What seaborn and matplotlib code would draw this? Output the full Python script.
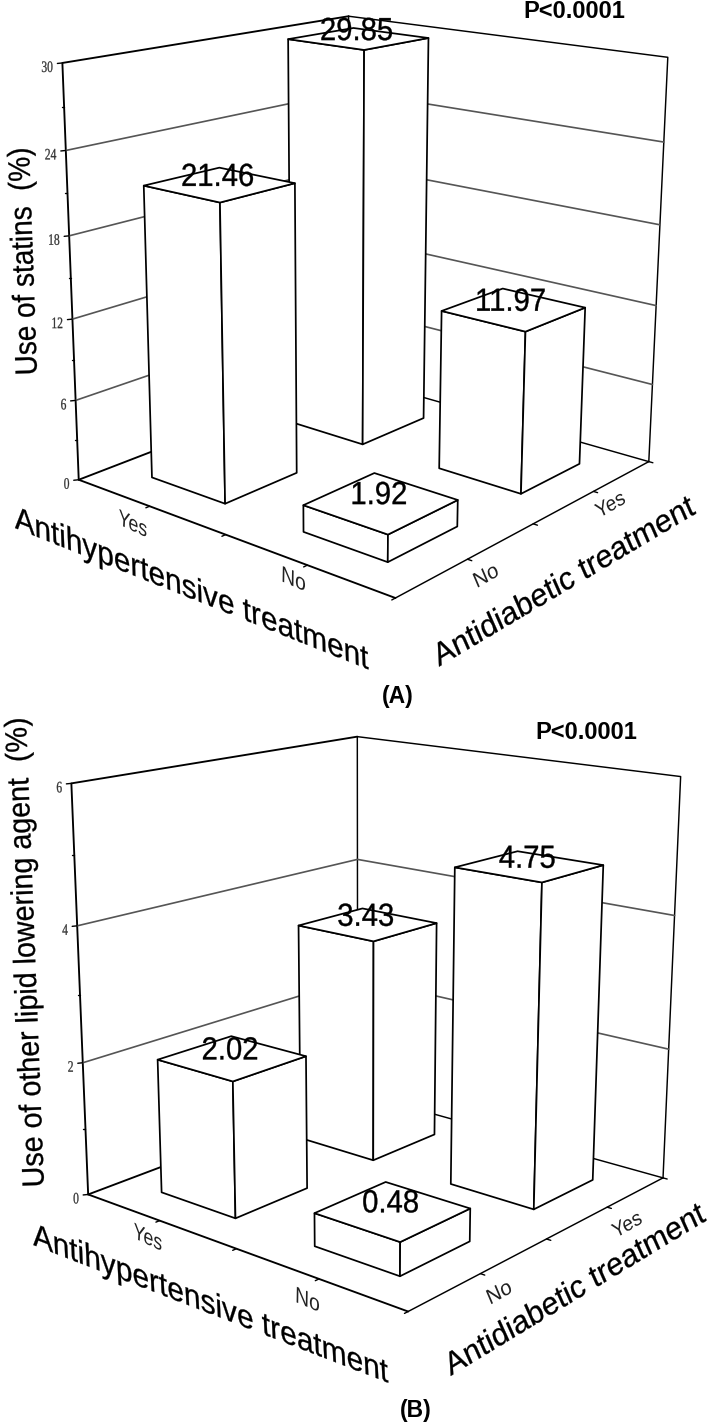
import numpy as np
import pandas as pd
import matplotlib
matplotlib.use('Agg')
import matplotlib.pyplot as plt
import matplotlib.patheffects as pe
from matplotlib.transforms import Affine2D
import seaborn as sns

# data
hypertensive_labels = ['Yes', 'No']
diabetic_labels = ['No', 'Yes']
hypertensive_idx = [0, 1, 0, 1]
diabetic_idx = [0, 0, 1, 1]
statins_values = [21.46, 1.92, 29.85, 11.97]
other_values = [2.02, 0.48, 3.43, 4.75]
statins_ticks = [0, 6, 12, 18, 24, 30]
other_ticks = [0, 2, 4, 6]
statins_minor = [3, 9, 15, 21, 27]
other_minor = [1, 3, 5]

# wall points: (u, v, z as share of the axis) -> pixel
calib_a = [((0, 0, 0), (78.3, 479)), ((0, 0, 1), (62.3, 63.3)), ((1, 0, 0), (396.3, 598.3)),
           ((1, 1, 0), (649.7, 462.3)), ((1, 1, 1), (668, 57.3)), ((0, 1, 0), (347.4, 376.4)),
           ((0, 1, 1), (350, 16)), ((0, 0, .8), (65, 151)), ((0, 0, .6), (68.3, 236)),
           ((0, 0, .4), (72.7, 319)), ((0, 0, .2), (76.7, 400)), ((1, 1, .8), (663.3, 141.7)),
           ((1, 1, .6), (659.7, 225)), ((1, 1, .4), (655.7, 305)), ((1, 1, .2), (651.7, 384.3))]
calib_b = [((0, 0, 0), (87.3, 1194)), ((0, 0, 1), (71.7, 783.3)), ((1, 0, 0), (408, 1312)),
           ((1, 1, 0), (663, 1177.3)), ((1, 1, 1), (681.3, 776.7)), ((0, 1, 0), (359, 1093.5)),
           ((0, 1, 1), (357.3, 736.7)), ((0, 0, 2/3), (77.3, 926)), ((0, 0, 1/3), (83.3, 1062.7)),
           ((1, 1, 2/3), (674.7, 915.7)), ((1, 1, 1/3), (668, 1049)), ((0, 1, 2/3), (356, 859))]

BAR_HALF = 0.125
SANS = 'Liberation Sans'
SERIF = 'Liberation Serif'


def fit_camera(points):
    rows = []
    for (u, v, z), (x, y) in points:
        rows.append([u, v, z, 1, 0, 0, 0, 0, -x*u, -x*v, -x*z, -x])
        rows.append([0, 0, 0, 0, u, v, z, 1, -y*u, -y*v, -y*z, -y])
    return np.linalg.svd(np.array(rows))[2][-1].reshape(3, 4)


def proj(cam, u, v, z):
    h = cam @ np.array([u, v, z, 1.0])
    return h[:2] / h[2]


class Slant(pe.AbstractPathEffect):
    # stretches and leans the glyphs, the text stays a normal text artist
    def __init__(self, xs=1.0, ys=1.0, lean=0.0, stroke=0.0):
        super().__init__()
        t = np.tan(np.radians(lean))
        self.m = Affine2D(np.array([[xs, t * ys, 0], [0, ys, 0], [0, 0, 1.0]]))
        self.stroke = stroke

    def draw_path(self, renderer, gc, tpath, affine, rgbFace=None):
        gc0 = renderer.new_gc()
        gc0.copy_properties(gc)
        gc0.set_linewidth(self.stroke)
        renderer.draw_path(gc0, tpath, self.m + affine, rgbFace)
        gc0.restore()


def put_text(ax, x, y, s, px, angle=0, xs=1.0, ys=1.0, lean=0.0, stroke=0.0, family=SANS, **kw):
    ax.text(x, y, s, fontsize=px * 0.72, family=family, rotation=angle, rotation_mode='anchor',
            ha='left', va='baseline', path_effects=[Slant(xs, ys, lean, stroke)], **kw)


def draw_lines(ax, segs, color, lw):
    rows = []
    for i, seg in enumerate(segs):
        for x, y in seg:
            rows.append({'seg': i, 'x': x, 'y': y})
    sns.lineplot(data=pd.DataFrame(rows), x='x', y='y', units='seg', estimator=None, sort=False,
                 color=color, linewidth=lw, ax=ax, zorder=1, legend=False,
                 solid_capstyle='round')


def draw_bar(ax, cam, u0, v0, h):
    u1, v1 = u0 + 2 * BAR_HALF, v0 + 2 * BAR_HALF
    faces = [[(u0, v0, 0), (u1, v0, 0), (u1, v0, h), (u0, v0, h)],
             [(u1, v0, 0), (u1, v1, 0), (u1, v1, h), (u1, v0, h)],
             [(u0, v0, h), (u1, v0, h), (u1, v1, h), (u0, v1, h)]]
    for f in faces:
        xy = np.array([proj(cam, *p) for p in f])
        ax.fill(xy[:, 0], xy[:, 1], facecolor='white', edgecolor='black', linewidth=1.25,
                joinstyle='round', zorder=3)


def draw_panel(ax, calib, values, ticks, minor, zmax):
    cam = fit_camera(calib)
    c = lambda u, v, z: proj(cam, u, v, z)

    # walls and floor edges, the left ones are a bit heavier
    draw_lines(ax, [[c(1, 1, 0), c(1, 1, 1), c(0, 1, 1)],
                    [c(0, 1, 0), c(0, 1, 1)],
                    [c(1, 0, 0), c(1, 1, 0)],
                    [c(0, 1, 0), c(1, 1, 0)]], 'black', 1.05)
    draw_lines(ax, [[c(1, 0, 0), c(0, 0, 0), c(0, 0, 1), c(0, 1, 1)],
                    [c(0, 0, 0), c(0, 1, 0)]], 'black', 1.35)

    # gridlines on the back walls
    grid = [[c(0, 0, t / zmax), c(0, 1, t / zmax), c(1, 1, t / zmax)] for t in ticks[1:-1]]
    draw_lines(ax, grid, '#555555', 1.2)

    # value axis ticks and labels
    marks = []
    for t in ticks:
        x, y = c(0, 0, t / zmax)
        marks.append([(x - 5, y + 0.5), (x, y)])
        n = len(str(t))
        put_text(ax, x - 9 - n * 6, y + 9, str(t), 16, xs=0.72, stroke=0.2, family=SERIF,
                 color='#333333')
    for t in minor:
        x, y = c(0, 0, t / zmax)
        marks.append([(x - 2, y), (x, y)])
    # floor ticks
    for t in (.25, .5, .75, 1):
        marks.append([c(t, 0, 0), c(t, -0.012, 0)])
        marks.append([c(1, t, 0), c(1.012, t, 0)])
    draw_lines(ax, marks, 'black', 1.0)

    # bars, back row first
    order = sorted(range(4), key=lambda i: (-diabetic_idx[i], hypertensive_idx[i]))
    for i in order:
        u0 = (hypertensive_idx[i] + .5) / 2 - BAR_HALF
        v0 = (diabetic_idx[i] + .5) / 2 - BAR_HALF
        draw_bar(ax, cam, u0, v0, values[i] / zmax)

    # value labels sit on the middle of the bar top
    for i in order:
        uc = (hypertensive_idx[i] + .5) / 2
        vc = (diabetic_idx[i] + .5) / 2
        x, y = c(uc, vc, values[i] / zmax)
        s = '%.2f' % values[i]
        w = ((len(s) - 1) * 0.556 + 0.278) * 29.3
        put_text(ax, x - 2 - w / 2, y + 1.5, s, 32, xs=0.915, stroke=0.25, color='black', zorder=5)


sns.set_theme(style='white')
plt.rcParams['font.family'] = [SANS, 'DejaVu Sans']

fig = plt.figure(figsize=(7.09, 14.25), dpi=100)
ax = fig.add_axes([0, 0, 1, 1])
ax.set_xlim(0, 709)
ax.set_ylim(1425, 0)
ax.axis('off')

draw_panel(ax, calib_a, statins_values, statins_ticks, statins_minor, 30)
draw_panel(ax, calib_b, other_values, other_ticks, other_minor, 6)

# panel A text
put_text(ax, 37, 375, 'Use of statins  (%)', 31, angle=92, xs=0.9, stroke=0.2, color='black')
put_text(ax, 15, 528, 'Antihypertensive treatment', 31.5, angle=-21.8, xs=1.017, ys=0.95, lean=-24, stroke=0.2, color='black')
put_text(ax, 439, 666.7, 'Antidiabetic treatment', 31, angle=30.8, ys=1.0, lean=7, stroke=0.2, color='black')
put_text(ax, 118, 524, hypertensive_labels[0], 19.5, angle=-25, ys=1.05, lean=-22, color='#222222')
put_text(ax, 281, 581, hypertensive_labels[1], 21, angle=-23, ys=1.0, lean=-22, color='#222222')
put_text(ax, 476.7, 588.3, diabetic_labels[0], 21, angle=30, lean=7, color='#222222')
put_text(ax, 599, 518.3, diabetic_labels[1], 19.5, angle=30, ys=1.05, lean=7, color='#222222')
ax.text(523, 17.5, 'P<0.0001', fontsize=17, family=SANS, fontweight='bold', color='black')
ax.text(382.3, 702.7, '(A)', fontsize=16.5, family=SANS, fontweight='bold', color='black')

# panel B text
put_text(ax, 44, 1187, 'Use of other lipid lowering agent  (%)', 31, angle=92.2, xs=0.925, stroke=0.2, color='black')
put_text(ax, 33.3, 1245, 'Antihypertensive treatment', 31.5, angle=-21.2, xs=1.017, ys=0.95, lean=-24, stroke=0.2, color='black')
put_text(ax, 450.7, 1376, 'Antidiabetic treatment', 31, angle=31.3, ys=1.0, lean=7, stroke=0.2, color='black')
put_text(ax, 133, 1237.6, hypertensive_labels[0], 19.5, angle=-25, ys=1.05, lean=-22, color='#222222')
put_text(ax, 295, 1301.7, hypertensive_labels[1], 21, angle=-23, lean=-22, color='#222222')
put_text(ax, 490, 1305, diabetic_labels[0], 21, angle=30, lean=7, color='#222222')
put_text(ax, 615.7, 1238.3, diabetic_labels[1], 19.5, angle=30, ys=1.05, lean=7, color='#222222')
ax.text(535.7, 739, 'P<0.0001', fontsize=17, family=SANS, fontweight='bold', color='black')
ax.text(399.7, 1416.7, '(B)', fontsize=16.5, family=SANS, fontweight='bold', color='black')

fig.savefig('out.png', dpi=100)
